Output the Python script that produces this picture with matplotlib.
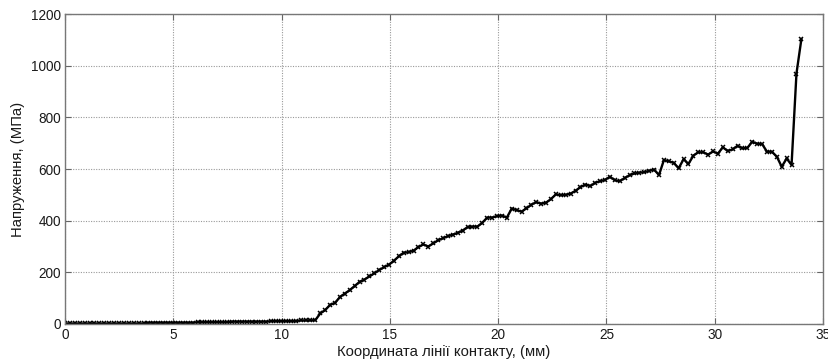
import numpy as np
import matplotlib
matplotlib.use('Agg')
import matplotlib.pyplot as plt

plt.rcParams['font.family'] = ['Liberation Sans', 'DejaVu Sans']

# sample step along the contact line, (mm)
dx = 34.0 / 150

# stress values, (MPa)
stress = [
    2, 2, 2, 2, 2, 2, 2, 2, 2, 2, 2, 2, 2, 2, 2, 2, 2,
    5, 5, 5, 5, 5, 5, 5, 5, 5, 5,
    7, 7, 7, 7, 7, 7, 7,
    9, 9, 9, 9, 9, 9, 9, 9,
    11, 11, 11, 11, 11, 11,
    14, 14, 14,
    15, 41, 54, 74, 82, 104, 118, 131, 147, 163,
    172, 184, 196, 209, 220, 230, 245, 262, 276, 278,
    284, 298, 308, 300, 312, 324, 332, 340, 346, 353,
    362, 375, 377, 377, 392, 412, 412, 418, 420, 412,
    447, 441, 435, 448, 462, 472, 466, 470, 484, 502,
    499, 500, 505, 516, 530, 540, 534, 547, 553, 558,
    570, 557, 553, 565, 576, 583, 586, 588, 593, 598,
    577, 635, 630, 624, 603, 638, 620, 652, 665, 665,
    656, 668, 660, 684, 670, 676, 690, 680, 682, 706,
    698, 697, 667, 667, 648, 609, 641, 616, 970, 1103,
]
coord = np.arange(len(stress)) * dx

xticks = [0, 5, 10, 15, 20, 25, 30, 35]
yticks = [0, 200, 400, 600, 800, 1000, 1200]

fig = plt.figure(figsize=(8.29, 3.62), dpi=100)
ax = fig.add_axes([0.0784, 0.105, 0.9144, 0.856])

ax.plot(coord, stress, color='black', lw=1.7, marker='x', ms=2.8, mew=1.1)

ax.set_xlim(0, 35)
ax.set_ylim(0, 1200)
ax.set_xticks(xticks)
ax.set_yticks(yticks)
ax.grid(True, color='#999999', ls=(0, (1, 1.3)), lw=0.8)
ax.tick_params(direction='in', top=True, right=True, labelsize=9.8,
               colors='#666666', labelcolor='#1a1a1a', length=4, pad=3)
for s in ax.spines.values():
    s.set_color('#777777')
    s.set_linewidth(1.0)

ax.set_xlabel('Координата лінії контакту, (мм)', fontsize=10.7, color='#1a1a1a', labelpad=2)
ax.set_ylabel('Напруження, (МПа)', fontsize=10.7, color='#1a1a1a', labelpad=4)

fig.savefig('out.png', dpi=100)
